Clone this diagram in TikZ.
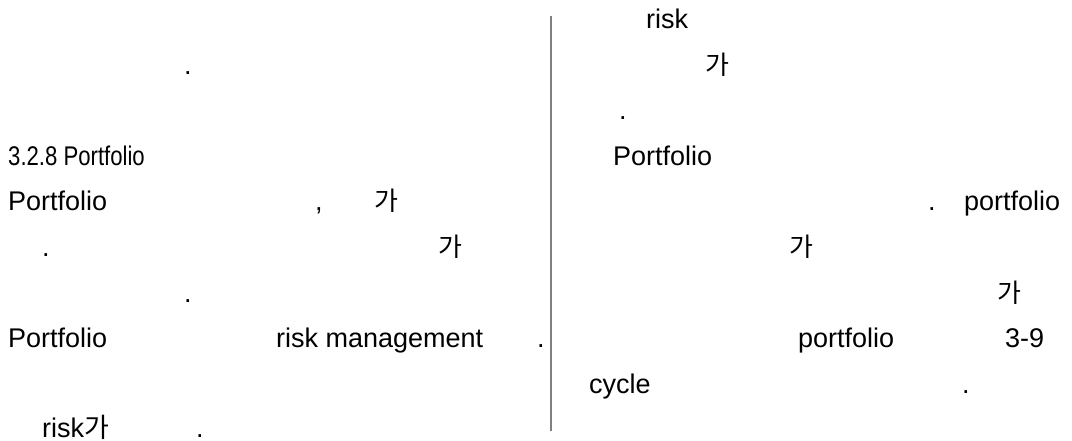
\documentclass[tikz,border=0pt]{standalone}
\usepackage{fontspec}
\setmainfont{Liberation Sans}
\newfontfamily\kor{Noto Sans CJK KR}
\newfontfamily\narrow[FakeStretch=0.82]{Liberation Sans}
\usepackage{xcolor}
\usetikzlibrary{positioning}
\definecolor{rulegray}{HTML}{808080}
\tikzset{
  txt/.style={anchor=base west, inner sep=0pt, font=\fontsize{27}{30}\selectfont},
  ko/.style={txt, font=\fontsize{26}{30}\kor}
}

\begin{document}
\begin{tikzpicture}[x=1pt, y=1pt]
\useasboundingbox (0,0) rectangle (1072,-441);

% column rule
\coordinate (ruletop) at (551,-16);
\coordinate (rulebot) at (551,-431);
\draw[rulegray, line width=1.1pt] (ruletop) -- (rulebot);

% left column
\node[txt] (ldot1) at (184,-74.5) {.};
\node[txt, font=\fontsize{27}{30}\narrow] (head) at (8,-165.5) {3.2.8 Portfolio};
\node[txt] (lport1) at (8,-211) {Portfolio};
\node[txt] (lcomma) at (315,-211) {,};
\node[ko] (lga1) at (374,-211) {가};
\node[txt] (ldot2) at (42,-256.5) {.};
\node[ko] (lga2) at (438,-256.5) {가};
\node[txt] (ldot3) at (184,-302) {.};
\node[txt] (lport2) at (8,-347.5) {Portfolio};
\node[txt] (lrisk) at (276,-347.5) {risk management};
\node[txt] (ldot4) at (537,-347.5) {.};
\node[txt] (lriskga) at (42,-437) {risk{\kor 가}};
\node[txt] (ldot5) at (196,-437) {.};

% right column
\node[txt] (rrisk) at (646,-29) {risk};
\node[ko] (rga1) at (705,-74.5) {가};
\node[txt] (rdot1) at (619,-120) {.};
\node[txt] (rport1) at (613,-165.5) {Portfolio};
\node[txt] (rdot2) at (928,-211) {.};
\node[txt] (rport2) at (964,-211) {portfolio};
\node[ko] (rga2) at (789,-256.5) {가};
\node[ko] (rga3) at (997,-302) {가};
\node[txt] (rport3) at (798,-347.5) {portfolio};
\node[txt] (rfig) at (1005,-347.5) {3-9};
\node[txt] (rcycle) at (589,-393) {cycle};
\node[txt] (rdot3) at (962,-393) {.};
\end{tikzpicture}
\end{document}
